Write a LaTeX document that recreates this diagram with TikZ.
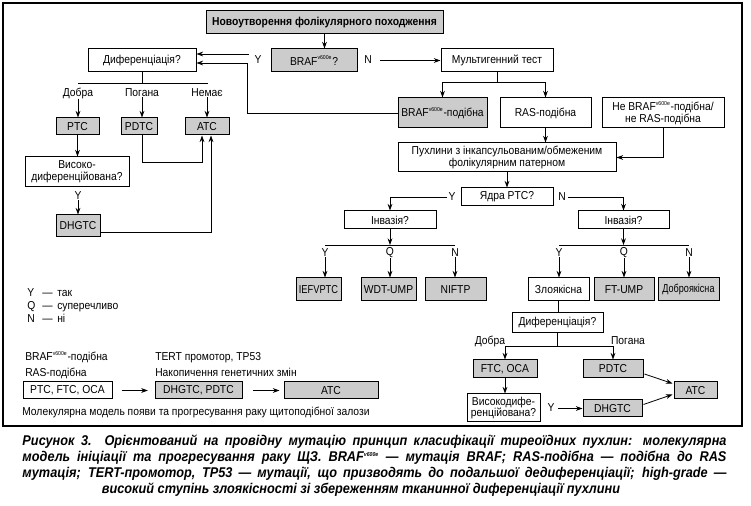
\documentclass[tikz,border=0pt]{standalone}
\usepackage{fontspec}
\setmainfont[FakeStretch=0.9]{Liberation Sans}
\newfontfamily\capfont[FakeStretch=0.9]{Liberation Sans}
\usetikzlibrary{arrows.meta,calc}
\definecolor{boxgray}{gray}{0.8}
\newcommand\vsix{\textsuperscript{\fontsize{4.3}{4.3}\selectfont v600e}}
\newcommand\mybox[7]{\node[#6, minimum width={(#4-#2)*0.75pt}, minimum height={(#5-#3)*0.75pt}] (#1) at ({(#2+#4)/2},{(#3+#5)/2}) {#7};}
\begin{document}
\begin{tikzpicture}[x=0.75pt,y=-0.75pt,
  txt/.style={font=\fontsize{8.6}{8.8}\selectfont},
  wbx/.style={draw, line width=0.75pt, inner sep=0pt, align=center, txt},
  gbx/.style={wbx, fill=boxgray},
  lbl/.style={inner sep=0pt, txt},
  lt/.style={lbl, anchor=base west},
  arr/.style={line width=0.6pt, -{Stealth[length=5pt,width=3.6pt]}},
  ln/.style={line width=0.6pt},
  capl/.style={inner sep=0pt, font=\capfont\bfseries\itshape\fontsize{10.6}{11}\selectfont}]
\useasboundingbox (0,0) rectangle (751,506);
\draw[line width=1.1pt] (3,3) rectangle (742,426);

% boxes
\mybox{top}{206}{11}{443}{34}{gbx}{\bfseries Новоутворення фолікулярного походження}
\mybox{braf}{271}{49}{357}{72}{gbx}{BRAF\vsix?}
\mybox{multi}{441}{49}{553}{72}{wbx}{Мультигенний тест}
\mybox{dif1}{88}{49}{196}{72}{wbx}{Диференціація?}
\mybox{brafl}{398}{98}{487}{128}{gbx}{BRAF\vsix-подібна}
\mybox{rasl}{500}{98}{591}{128}{wbx}{RAS-подібна}
\mybox{nonl}{602}{98}{724}{128}{wbx}{Не BRAF\vsix-подібна/\\не RAS-подібна}
\mybox{tum}{398}{143}{616}{172}{wbx}{Пухлини з інкапсульованим/обмеженим\\фолікулярним патерном}
\mybox{nuc}{461}{188}{553}{206}{wbx}{Ядра PTC?}
\mybox{inv1}{344}{211}{436}{229}{wbx}{Інвазія?}
\mybox{inv2}{578}{211}{669}{229}{wbx}{Інвазія?}
\mybox{iefv}{296}{278}{341}{301}{gbx}{\scalebox{0.9}[1]{IEFVPTC}}
\mybox{wdt}{361}{278}{416}{301}{gbx}{WDT-UMP}
\mybox{niftp}{425}{278}{486}{301}{gbx}{NIFTP}
\mybox{mal}{528}{278}{589}{301}{wbx}{Злоякісна}
\mybox{ftump}{594}{278}{654}{301}{gbx}{FT-UMP}
\mybox{ben}{658}{278}{719}{301}{gbx}{\scalebox{0.88}[1]{Доброякісна}}
\mybox{dif2}{512}{313}{603}{333}{wbx}{Диференціація?}
\mybox{ftc}{473}{360}{537}{378}{gbx}{FTC, OCA}
\mybox{pdtcb}{583}{360}{643}{378}{gbx}{PDTC}
\mybox{atcb}{674}{382}{717}{399}{gbx}{ATC}
\mybox{hdb}{467}{394}{540}{422}{wbx}{Високодифе-\\ренційована?}
\mybox{dhgtcb}{583}{400}{642}{417}{gbx}{DHGTC}
\mybox{ptca}{56}{118}{99}{135}{gbx}{PTC}
\mybox{pdtca}{121}{118}{157}{135}{gbx}{PDTC}
\mybox{atca}{185}{118}{229}{135}{gbx}{ATC}
\mybox{hda}{25}{157}{129}{187}{wbx}{Високо-\\диференційована?}
\mybox{dhgtca}{56}{215}{100}{237}{gbx}{DHGTC}
\mybox{mA}{23}{382}{112}{399}{wbx}{PTC, FTC, OCA}
\mybox{mB}{155}{382}{242}{399}{gbx}{DHGTC, PDTC}
\mybox{mC}{284}{382}{378}{399}{gbx}{ATC}

% labels
\node[lbl] (yb) at (258,60) {Y};
\node[lbl] (nb) at (368,60) {N};
\node[lbl] (la1) at (78,93) {Добра};
\node[lbl] (la2) at (142,93) {Погана};
\node[lbl] (la3) at (207,93) {Немає};
\node[lbl] (ya) at (78,196) {Y};
\node[lbl] (yn) at (452,197) {Y};
\node[lbl] (nn) at (562,197) {N};
\node[lbl] (lb1) at (325,253) {Y};
\node[lbl] (lb2) at (390,253) {Q};
\node[lbl] (lb3) at (455,253) {N};
\node[lbl] (lc1) at (559,253) {Y};
\node[lbl] (lc2) at (624,253) {Q};
\node[lbl] (lc3) at (689,253) {N};
\node[lbl] (ld1) at (490,341) {Добра};
\node[lbl] (ld2) at (628,341) {Погана};
\node[lbl] (yd) at (551,408) {Y};

% legend
\node[lt] (g1) at (27,297) {Y};
\node[lt] (g2) at (27,310) {Q};
\node[lt] (g3) at (27,323) {N};
\node[lt] (g1d) at (42,297) {—};
\node[lt] (g2d) at (42,310) {—};
\node[lt] (g3d) at (42,323) {—};
\node[lt] (g1t) at (57,297) {так};
\node[lt] (g2t) at (57,310) {суперечливо};
\node[lt] (g3t) at (57,323) {ні};

% molecular model texts
\node[lt] (t1) at (25,361) {BRAF\vsix-подібна};
\node[lt] (t2) at (25,377) {RAS-подібна};
\node[lt] (t3) at (155,361) {TERT промотор, TP53};
\node[lt] (t4) at (155,377) {Накопичення генетичних змін};
\node[lt] (t5) at (22,416) {Молекулярна модель появи та прогресування раку щитоподібної залози};

% coordinates
\coordinate (ys) at (249,54);
\coordinate (ns) at (380,60.5);
\coordinate (mj) at (497,82);
\coordinate (bl) at (247,63);
\coordinate (ynj) at (447,197);
\coordinate (nnj) at (568,197);
\coordinate (i1) at (390,245);
\coordinate (i1a) at (325,245);
\coordinate (i1b) at (455,245);
\coordinate (i2) at (623.5,245);
\coordinate (i2a) at (559,245);
\coordinate (i2b) at (689,245);
\coordinate (d2) at (557.5,346);
\coordinate (d2a) at (505,346);
\coordinate (d2b) at (613,346);
\coordinate (d1) at (142,83);
\coordinate (d1a) at (78,83);
\coordinate (d1b) at (208,83);
\coordinate (ydj) at (558,408.5);

% connectors top
\draw[arr] (top.south) -- (top.south |- braf.north);
\draw[arr] (ys) -- (ys -| dif1.east);
\draw[arr] (ns) -- (multi.west);
\draw[ln] (multi.south) -- (mj);
\draw[arr] (mj) -| (brafl.north);
\draw[arr] (mj) -| (rasl.north);
\draw[arr] (brafl.west) -| (bl) -- (bl -| dif1.east);
\draw[arr] (rasl.south) -- (rasl.south |- tum.north);
\draw[arr] (nonl.south) |- (tum.east);
\draw[arr] (tum.south) -- (nuc.north);
\draw[arr] (ynj) -| (inv1.north);
\draw[arr] (nnj) -| (inv2.north);
\draw[arr] (inv1.south) -- (i1);
\draw[ln] (i1a) -- (i1b);
\draw[arr] (inv2.south) -- (i2);
\draw[ln] (i2a) -- (i2b);
\draw[arr] (lb1.south) -- (lb1.south |- iefv.north);
\draw[arr] (lb2.south) -- (lb2.south |- wdt.north);
\draw[arr] (lb3.south) -- (lb3.south |- niftp.north);
\draw[arr] (lc1.south) -- (lc1.south |- mal.north);
\draw[arr] (lc2.south) -- (lc2.south |- ftump.north);
\draw[arr] (lc3.south) -- (lc3.south |- ben.north);
\draw[ln] (mal.south) -- (mal.south |- dif2.north);
\draw[ln] (dif2.south) -- (d2);
\draw[ln] (d2a) -- (d2b);
\draw[arr] (d2a) -- (ftc.north);
\draw[arr] (d2b) -- (pdtcb.north);
\draw[arr] (ftc.south) -- (ftc.south |- hdb.north);
\draw[arr] (ydj) -- (dhgtcb.west);
\draw[arr] ($(pdtcb.east)+(1,5)$) -- ($(atcb.west)+(-1,-7)$);
\draw[arr] ($(dhgtcb.east)+(1,-4)$) -- ($(atcb.west)+(-1,4)$);

% left branch
\draw[ln] (dif1.south) -- (d1);
\draw[ln] (d1a) -- (d1b);
\draw[arr] (la1.south) -- (la1.south |- ptca.north);
\draw[arr] (la2.south) -- (la2.south |- pdtca.north);
\draw[arr] (la3.south) -- (la3.south |- atca.north);
\draw[arr] (ptca.south) -- (ptca.south |- hda.north);
\draw[arr] (ya.south) -- (ya.south |- dhgtca.north);
\draw[arr] ($(dhgtca.east)+(0,6)$) -| ($(atca.south)+(4,0)$);
\draw[arr] ($(pdtca.south)+(3,0)$) -- ++(0,27) -| ($(atca.south)+(-5,0)$);

% molecular model arrows
\draw[arr, shorten <=7pt, shorten >=5pt] (mA.east) -- (mB.west);
\draw[arr, shorten <=8pt, shorten >=3pt] (mB.east) -- (mC.west);

% caption
\node[capl] (c1) at (374.5,442) {\makebox[528pt][s]{Рисунок 3.\ \ Орієнтований на провідну мутацію принцип класифікації тиреоїдних пухлин: молекулярна}};
\node[capl] (c2) at (374.5,458) {\makebox[528pt][s]{модель ініціації та прогресування раку ЩЗ. BRAF\vsix{} — мутація BRAF; RAS-подібна — подібна до RAS}};
\node[capl] (c3) at (374.5,474) {\makebox[528pt][s]{мутація; TERT-промотор, TP53 — мутації, що призводять до подальшої дедиференціації; high-grade —}};
\node[capl] (c4) at (361,490) {високий ступінь злоякісності зі збереженням тканинної диференціації пухлини};
\end{tikzpicture}
\end{document}
